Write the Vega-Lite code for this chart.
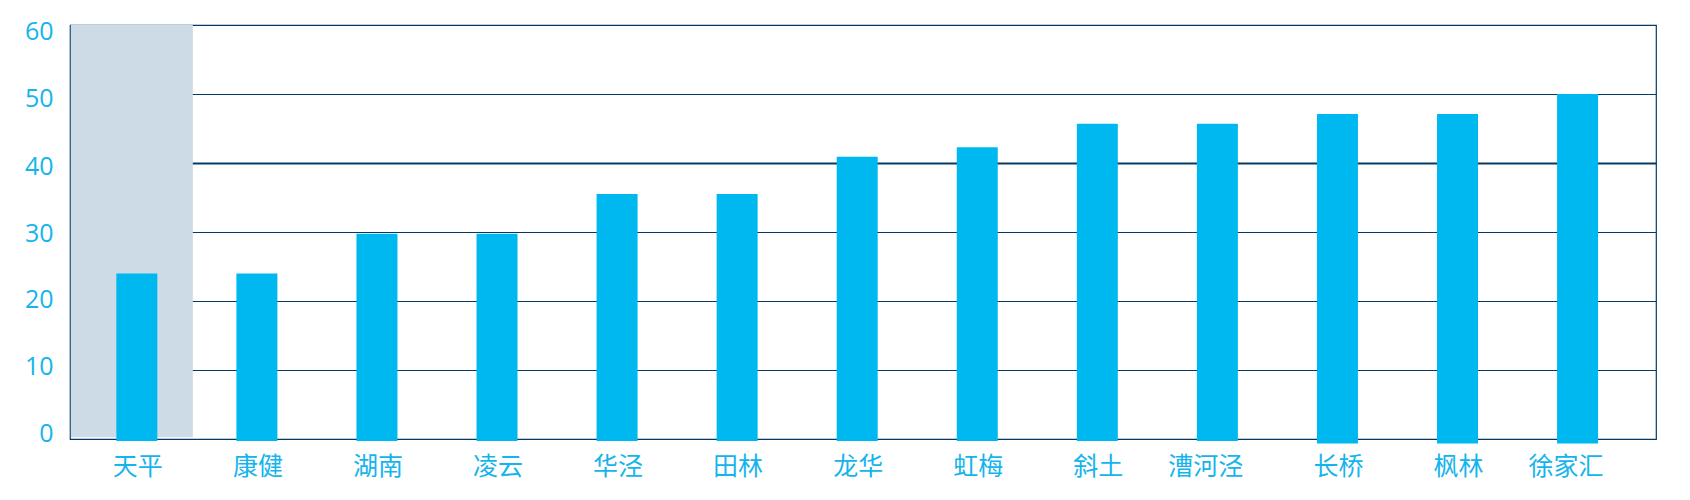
{
  "$schema": "https://vega.github.io/schema/vega-lite/v6.json",
  "width": 1586,
  "height": 414,
  "autosize": {"type": "none"},
  "padding": {"left": 70, "top": 25, "right": 34, "bottom": 61},
  "background": "white",
  "config": {
    "view": {"stroke": "#063a66", "strokeWidth": 1.2},
    "axis": {"domain": false, "ticks": false}
  },
  "datasets": {
    "bars": [
      {"station": "天平", "value": 24, "base": -0.3},
      {"station": "康健", "value": 24, "base": -0.3},
      {"station": "湖南", "value": 29.75, "base": -0.3},
      {"station": "凌云", "value": 29.75, "base": -0.3},
      {"station": "华泾", "value": 35.5, "base": -0.3},
      {"station": "田林", "value": 35.5, "base": -0.3},
      {"station": "龙华", "value": 40.9, "base": -0.3},
      {"station": "虹梅", "value": 42.3, "base": -0.3},
      {"station": "斜土", "value": 45.7, "base": -0.3},
      {"station": "漕河泾", "value": 45.7, "base": -0.3},
      {"station": "长桥", "value": 47.1, "base": -0.65},
      {"station": "枫林", "value": 47.1, "base": -0.65},
      {"station": "徐家汇", "value": 50, "base": -0.65}
    ],
    "highlight": [
      {"station": "天平", "top": 60, "bottom": 0.25}
    ]
  },
  "layer": [
    {
      "data": {"name": "highlight"},
      "mark": {"type": "bar", "color": "#cddbe6", "width": 122, "xOffset": -5},
      "encoding": {
        "x": {"field": "station", "type": "nominal", "sort": null},
        "y": {"field": "top", "type": "quantitative"},
        "y2": {"field": "bottom"}
      }
    },
    {
      "data": {"name": "bars"},
      "mark": {"type": "bar", "color": "#00b8f0", "width": 41},
      "encoding": {
        "x": {
          "field": "station",
          "type": "nominal",
          "sort": null,
          "scale": {
            "domain": ["天平", "康健", "湖南", "凌云", "华泾", "田林", "龙华", "虹梅", "斜土", "漕河泾", "长桥", "枫林", "徐家汇"],
            "paddingInner": 0, "paddingOuter": 0.105, "align": 0.27
          },
          "axis": {
            "title": null,
            "labelAngle": 0,
            "labelFont": "Noto Sans CJK SC",
            "labelFontSize": 25,
            "labelColor": "#14b4ec",
            "labelPadding": 27,
            "labelOffset": 26,
            "grid": false
          }
        },
        "y": {
          "field": "value",
          "type": "quantitative",
          "scale": {"domain": [0, 60], "nice": false},
          "axis": {
            "title": null,
            "values": [0, 10, 20, 30, 40, 50, 60],
            "labelFont": "Open Sans",
            "labelFontSize": 25,
            "labelFontWeight": 500,
            "labelColor": "#14b4ec",
            "labelPadding": 17,
            "labelBaseline": "middle",
            "labelOffset": {
              "condition": [
                {"test": "datum.value == 60", "value": 6},
                {"test": "datum.value == 50", "value": 4.5},
                {"test": "datum.value == 40", "value": 3},
                {"test": "datum.value == 20", "value": -1.5},
                {"test": "datum.value == 10", "value": -3.5},
                {"test": "datum.value == 0", "value": -5.5}
              ],
              "value": 1
            },
            "grid": true,
            "gridColor": "#063a66",
            "gridOpacity": 1,
            "gridWidth": {
              "condition": {"test": "datum.value == 40", "value": 2.2},
              "value": 1.2
            }
          }
        },
        "y2": {"field": "base"}
      }
    }
  ]
}
